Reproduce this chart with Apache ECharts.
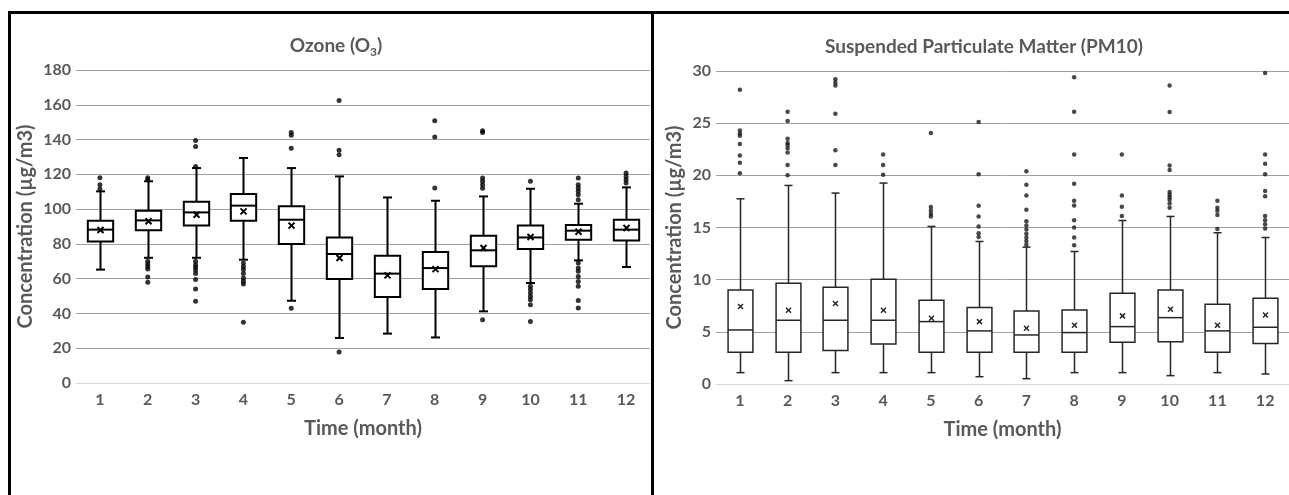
<!DOCTYPE html>
<html><head><meta charset="utf-8">
<script src="https://cdn.jsdelivr.net/npm/echarts@6/dist/echarts.min.js"></script>
<style>html,body{margin:0;padding:0;background:#fff}#c{width:1289px;height:495px}</style>
</head><body><div id="c"></div>
<script>
const months = ['1','2','3','4','5','6','7','8','9','10','11','12'];

// Ozone (O3) box statistics
const ozoneMin    = [65.2, 72, 72, 70.9, 47.3, 25.9, 28.4, 26.2, 41.2, 57.5, 70.5, 66.7];
const ozoneQ1     = [81.4, 87.8, 90.6, 93.3, 79.9, 59.8, 49.5, 54, 67.1, 77, 82.4, 82];
const ozoneMedian = [88.2, 93.5, 98.1, 102, 93.9, 74.2, 62.9, 66.1, 76.3, 83.7, 87.6, 88.2];
const ozoneQ3     = [93.3, 99.1, 104.3, 108.7, 101.6, 83.7, 73.2, 75.3, 84.7, 90.6, 90.8, 93.9];
const ozoneMax    = [110.2, 116, 123.6, 129.4, 123.6, 118.8, 106.7, 104.8, 107.3, 111.7, 103.1, 112.5];
const ozoneMean   = [88, 93, 96.8, 98.7, 90.5, 71.9, 61.9, 65.5, 77.6, 84, 87, 89.1];
const ozoneOutliers = [
  [118, 114, 111.5],
  [118, 117, 70, 68.5, 67, 65.5, 61, 58],
  [139.5, 136, 124.5, 70, 68, 66.5, 65, 63, 59.5, 54, 47],
  [69, 67, 65.2, 62.9, 60.4, 58.5, 57, 35],
  [144, 142.5, 135, 43],
  [162.5, 133.8, 131.3, 17.8],
  [],
  [150.8, 141.5, 112.1],
  [145, 144, 117.9, 116, 114, 112, 36.4],
  [116, 55.6, 53.7, 51.8, 49.8, 47.9, 45, 35.4],
  [117.9, 114, 112.1, 110.2, 108.3, 105.4, 69, 66.1, 64.2, 61.3, 58.4, 55.6, 47.5, 43.1],
  [120.8, 118.8, 116.9, 115]
];

// PM10 box statistics
const pmMin    = [1.09, 0.32, 1.09, 1.09, 1.09, 0.7, 0.51, 1.09, 1.09, 0.8, 1.09, 0.96];
const pmQ1     = [3.04, 3.04, 3.2, 3.84, 3.04, 3.04, 3.04, 3.04, 4.0, 4.06, 3.04, 3.87];
const pmMedian = [5.18, 6.11, 6.11, 6.11, 5.98, 5.09, 4.7, 4.93, 5.5, 6.36, 5.09, 5.44];
const pmQ3     = [9.0, 9.66, 9.28, 10.05, 8.03, 7.33, 7.0, 7.1, 8.7, 9.0, 7.65, 8.22];
const pmMax    = [17.75, 19.03, 18.3, 19.26, 15.1, 13.66, 13.12, 12.7, 15.67, 16.06, 14.5, 14.04];
const pmMean   = [7.42, 7.07, 7.71, 7.07, 6.3, 5.98, 5.34, 5.63, 6.53, 7.17, 5.63, 6.62];
const pmOutliers = [
  [28.2, 24.3, 24.0, 23.8, 23.0, 21.9, 21.2, 20.2],
  [26.1, 25.2, 23.5, 23.1, 22.9, 22.6, 22.2, 21.0, 20.0],
  [29.2, 28.9, 28.6, 25.9, 22.4, 21.0],
  [22.0, 21.0, 20.06],
  [24.06, 16.96, 16.6, 16.3, 16.06],
  [25.1, 20.1, 17.08, 16.06, 15.1, 14.46, 14.1],
  [20.4, 19.1, 18.07, 16.7, 15.6, 15.2, 14.8, 14.4, 14.05, 13.7, 13.35],
  [29.4, 26.1, 22.0, 19.2, 17.56, 17.1, 15.7, 15.0, 14.04, 13.3],
  [22.0, 18.07, 17.0, 16.1],
  [28.6, 26.07, 20.95, 20.5, 18.4, 18.15, 17.9, 17.66, 17.3, 16.9],
  [17.56, 16.9, 16.6, 16.2, 14.85],
  [29.8, 22.0, 21.1, 20.1, 18.5, 18.0, 16.1, 15.7, 15.3, 14.9]
];

const ozoneTicks = {min: 0, max: 180, interval: 20};
const pmTicks = {min: 0, max: 30, interval: 5};

function boxRows(mn, q1, md, q3, mx, me) {
  return months.map((m, i) => [i, mn[i], q1[i], md[i], q3[i], mx[i], me[i]]);
}
function outlierRows(o) {
  const r = [];
  o.forEach((arr, i) => arr.forEach(v => r.push([i, v])));
  return r;
}

function makeRender(lw, capW, ratio, color, cross) {
  return function (params, api) {
    const x = api.value(0);
    const pMin = api.coord([x, api.value(1)]);
    const pQ1 = api.coord([x, api.value(2)]);
    const pMed = api.coord([x, api.value(3)]);
    const pQ3 = api.coord([x, api.value(4)]);
    const pMax = api.coord([x, api.value(5)]);
    const pMean = api.coord([x, api.value(6)]);
    const bw = api.size([1, 0])[0] * ratio;
    const cx = Math.round(pMin[0]) + 0.5;
    const st = {stroke: color, lineWidth: lw, fill: null};
    const line = (x1, y1, x2, y2) => ({type: 'line', shape: {x1, y1, x2, y2}, style: st});
    return {
      type: 'group',
      children: [
        line(cx, pQ3[1], cx, pMax[1]),
        line(cx, pQ1[1], cx, pMin[1]),
        line(cx - capW / 2, pMax[1], cx + capW / 2, pMax[1]),
        line(cx - capW / 2, pMin[1], cx + capW / 2, pMin[1]),
        {type: 'rect', shape: {x: cx - bw / 2, y: pQ3[1], width: bw, height: pQ1[1] - pQ3[1]},
         style: {fill: '#fff', stroke: color, lineWidth: lw}},
        line(cx - bw / 2, pMed[1], cx + bw / 2, pMed[1]),
        line(cx - cross, pMean[1] - cross, cx + cross, pMean[1] + cross),
        line(cx - cross, pMean[1] + cross, cx + cross, pMean[1] - cross)
      ]
    };
  };
}

const FONT = 'Lato';
const GRAY = '#595959';
const labelStyle = {color: GRAY, fontWeight: 'bold', fontSize: 16, fontFamily: FONT};
const nameStyle = {color: GRAY, fontWeight: 'bold', fontSize: 20, fontFamily: FONT};

function xAxisFor(gi) {
  return {
    type: 'category', gridIndex: gi, data: months,
    axisLine: {lineStyle: {color: '#d9d9d9', width: 1}},
    axisTick: {show: false},
    axisLabel: Object.assign({margin: 9}, labelStyle),
    name: 'Time (month)', nameLocation: 'middle', nameGap: 36,
    nameTextStyle: nameStyle,
    splitLine: {show: false}
  };
}
function yAxisFor(gi, t, gap) {
  return {
    type: 'value', gridIndex: gi, min: t.min, max: t.max, interval: t.interval,
    axisLine: {show: false}, axisTick: {show: false},
    axisLabel: Object.assign({margin: 5}, labelStyle),
    splitLine: {lineStyle: {color: '#a0a0a0', width: 1}},
    name: 'Concentration (µg/m3)', nameLocation: 'middle', nameGap: gap,
    nameTextStyle: nameStyle
  };
}

const chart = echarts.init(document.getElementById('c'), null, {renderer: 'canvas'});
chart.setOption({
  animation: false,
  backgroundColor: '#fff',
  title: [
    {text: '{a|Ozone (O}{s|3}{a|)}', left: 331, top: 29, textAlign: 'center',
     textStyle: {rich: {
       a: {fontSize: 19, fontWeight: 'bold', color: GRAY, fontFamily: FONT, lineHeight: 24},
       s: {fontSize: 12, fontWeight: 'bold', color: GRAY, fontFamily: FONT, verticalAlign: 'bottom', lineHeight: 12, padding: [7, 0, 0, 0]}
     }}},
    {text: 'Suspended Particulate Matter (PM10)', left: 979, top: 30, textAlign: 'center',
     textStyle: {fontSize: 19, fontWeight: 'bold', color: GRAY, fontFamily: FONT, lineHeight: 24}}
  ],
  grid: [
    {left: 76, top: 70, width: 574, height: 313},
    {left: 716, top: 71, width: 583, height: 313}
  ],
  xAxis: [xAxisFor(0), xAxisFor(1)],
  yAxis: [yAxisFor(0, ozoneTicks, 40), yAxisFor(1, pmTicks, 31)],
  series: [
    {type: 'custom', xAxisIndex: 0, yAxisIndex: 0, renderItem: makeRender(2, 9, 0.53, '#000', 3),
     encode: {x: 0, y: [1, 2, 3, 4, 5, 6]}, data: boxRows(ozoneMin, ozoneQ1, ozoneMedian, ozoneQ3, ozoneMax, ozoneMean), z: 2},
    {type: 'scatter', xAxisIndex: 0, yAxisIndex: 0, symbol: 'circle', symbolSize: 5,
     itemStyle: {color: '#000'}, data: outlierRows(ozoneOutliers), z: 3},
    {type: 'custom', xAxisIndex: 1, yAxisIndex: 1, renderItem: makeRender(1.5, 8, 0.52, '#262626', 2.5),
     encode: {x: 0, y: [1, 2, 3, 4, 5, 6]}, data: boxRows(pmMin, pmQ1, pmMedian, pmQ3, pmMax, pmMean), z: 2},
    {type: 'scatter', xAxisIndex: 1, yAxisIndex: 1, symbol: 'circle', symbolSize: 4.5,
     itemStyle: {color: '#1a1a1a'}, data: outlierRows(pmOutliers), z: 3}
  ],
  graphic: [
    {type: 'rect', shape: {x: 8, y: 11, width: 1290, height: 3}, style: {fill: '#000'}, z: 100},
    {type: 'rect', shape: {x: 8, y: 11, width: 3, height: 490}, style: {fill: '#000'}, z: 100},
    {type: 'rect', shape: {x: 651, y: 11, width: 3, height: 490}, style: {fill: '#000'}, z: 100}
  ]
});
</script></body></html>
